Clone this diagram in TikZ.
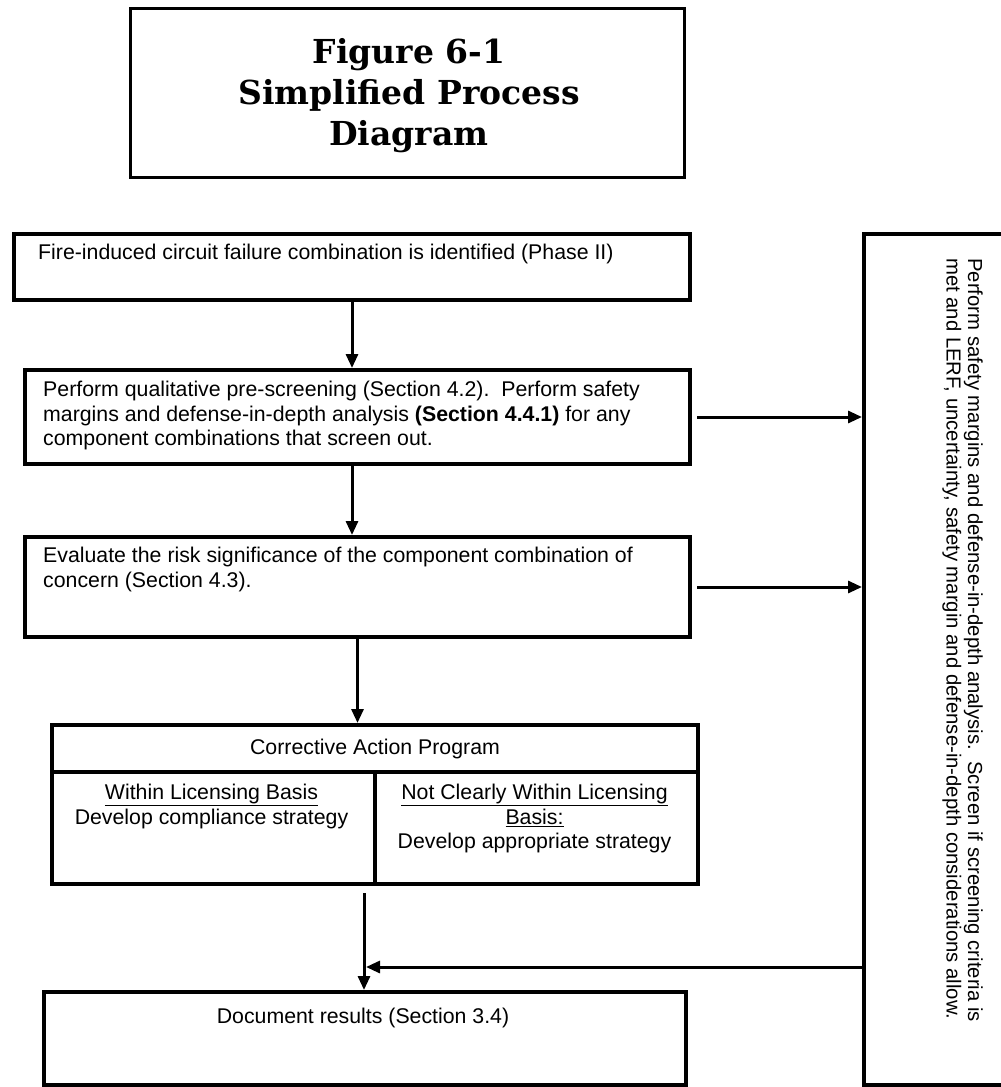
\documentclass[tikz,border=0pt]{standalone}
\usepackage{fontspec}
\setmainfont{Liberation Sans}
\newfontfamily\titlefont{DejaVu Serif}
\usetikzlibrary{arrows.meta}
\begin{document}
\begin{tikzpicture}[x=1pt,y=-1pt,
  boxs/.style={draw, line width=4pt, rectangle, inner sep=0pt, anchor=north west},
  txt/.style={inner sep=0pt, font=\fontsize{21.3}{24.5}\selectfont},
  vtxt/.style={inner sep=0pt, font=\fontsize{20.3}{21.5}\selectfont},
  arr/.style={line width=3pt, -{Triangle[length=14pt,width=12pt]}},
]
\useasboundingbox (0,0) rectangle (1001,1087);
% title
\node[boxs, line width=3pt, minimum width=554pt, minimum height=169pt, anchor=center] (title) at (407,92.5) {};
\node[inner sep=0pt, font=\titlefont\bfseries\fontsize{33}{41}\selectfont, align=center] (tt) at (409,96)
      {Figure 6-1\\Simplified Process\\Diagram};
% box 1
\node[boxs, minimum width=676pt, minimum height=66pt] (b1) at (12,232) {};
\node[txt, anchor=north west] (t1) at (38,244)
  {Fire-induced circuit failure combination is identified (Phase II)};
% box 2
\node[boxs, minimum width=665pt, minimum height=94pt] (b2) at (23,368) {};
\node[txt, anchor=north west, align=left] (t2) at (43,381)
  {Perform qualitative pre-screening (Section 4.2).\ \ Perform safety\\
   margins and defense-in-depth analysis \textbf{(Section 4.4.1)} for any\\
   component combinations that screen out.};
% box 3
\node[boxs, minimum width=665pt, minimum height=100pt] (b3) at (23,535) {};
\node[txt, anchor=north west, align=left] (t3) at (43,547)
  {Evaluate the risk significance of the component combination of\\
   concern (Section 4.3).};
% corrective action program
\node[boxs, txt, minimum width=646pt, minimum height=47pt] (cap) at (50,723) {Corrective Action Program};
\node[boxs, minimum width=323pt, minimum height=112pt] (capl) at (50,770) {};
\node[boxs, minimum width=323pt, minimum height=112pt] (capr) at (373,770) {};
\node[txt, anchor=north, align=center] (tl) at (211.5,784)
  {\underline{Within Licensing Basis}\\Develop compliance strategy};
\node[txt, anchor=north, align=center] (tr) at (534.5,784)
  {\underline{Not Clearly Within Licensing}\\\underline{Basis:}\\Develop appropriate strategy};
% document results
\node[boxs, minimum width=642pt, minimum height=93pt] (doc) at (42,990) {};
\node[txt, anchor=north] (td) at (363,1008) {Document results (Section 3.4)};
% right box
\node[boxs, minimum width=160pt, minimum height=851pt] (rb) at (862,232) {};
\node[vtxt, rotate=-90, anchor=north west, align=left] (tv) at (983,258)
  {Perform safety margins and defense-in-depth analysis.\ \ Screen if screening criteria is\\
   met and LERF, uncertainty, safety margin and defense-in-depth considerations allow.};
% connectors
\draw[arr] (b1.south) -- (b1.south |- b2.north);
\draw[arr] (b1.south |- b2.south) -- (b1.south |- b3.north);
\draw[arr] (b3.south) -- (b3.south |- cap.north);
\coordinate (a4s) at (364,893);
\draw[arr] (a4s) -- (a4s |- doc.north);
\draw[arr, shorten <=5pt] (b2.east) -- (b2.east -| rb.west);
\draw[arr, shorten <=5pt] (b3.east) -- (b3.east -| rb.west);
\coordinate (j) at (366,967);
\draw[arr] (rb.west |- j) -- (j);
\end{tikzpicture}
\end{document}
